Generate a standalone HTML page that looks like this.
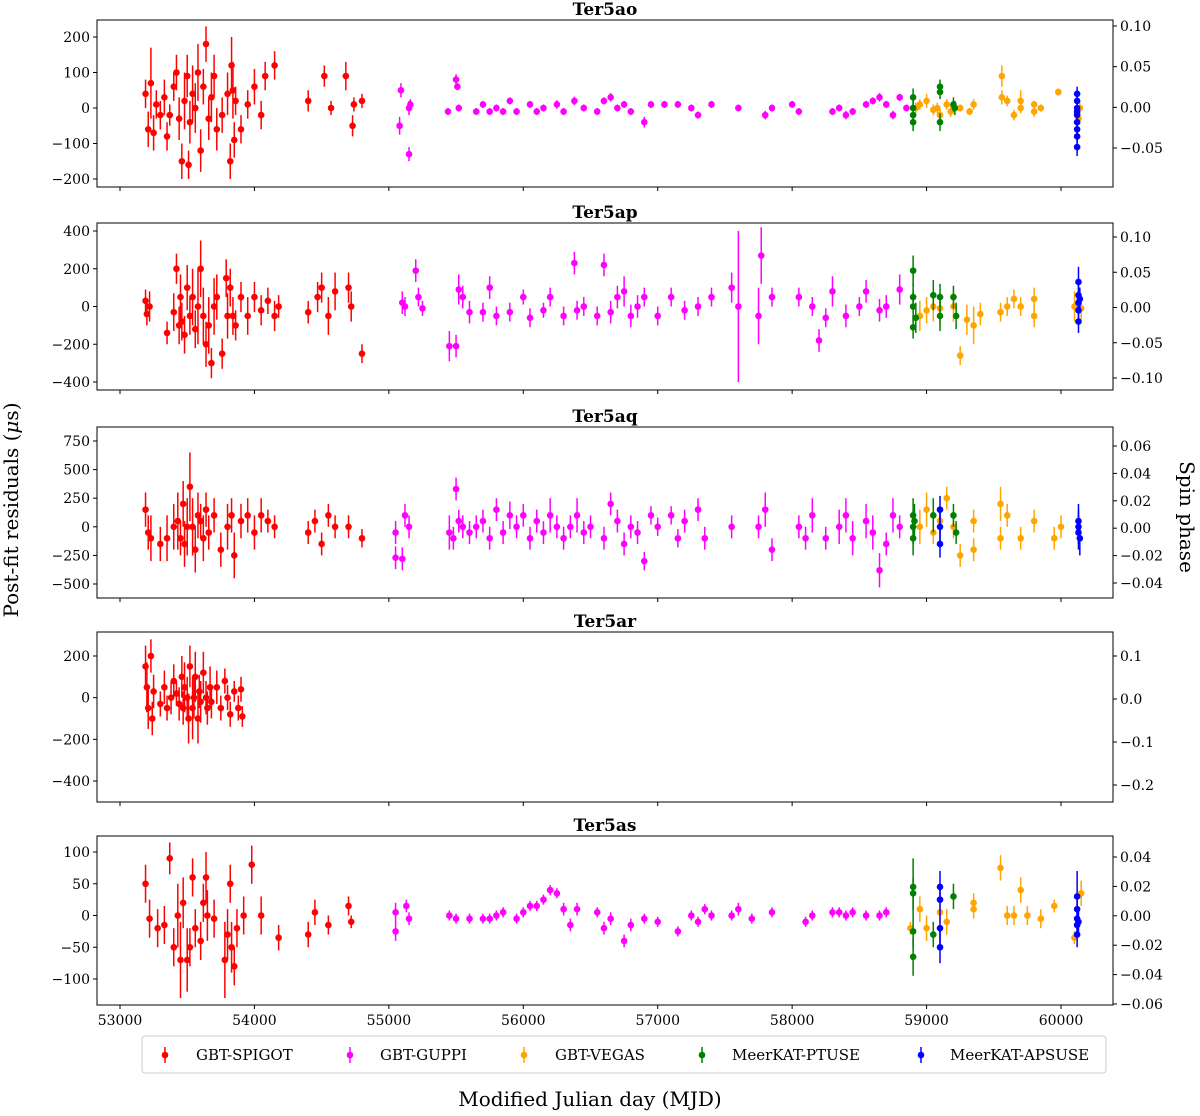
<!DOCTYPE html>
<html><head><meta charset="utf-8"><style>
html,body{margin:0;padding:0;background:#fff;}
svg text{font-family:"DejaVu Serif","Liberation Serif",serif;}
</style></head><body>
<svg id="chart" width="1200" height="1111" viewBox="0 0 1200 1111" xmlns="http://www.w3.org/2000/svg">
<text x="18" y="510" font-size="20" text-anchor="middle" transform="rotate(-90 18 510)">Post-fit residuals (<tspan font-style="italic">μ</tspan>s)</text>
<text x="1180" y="517" font-size="20" text-anchor="middle" transform="rotate(90 1180 517)">Spin phase</text>
<text x="590" y="1106" font-size="20" text-anchor="middle">Modified Julian day (MJD)</text>
<g id="legend">
<rect x="142" y="1036" width="964" height="37" rx="3" fill="#fff" stroke="#ccc"/>
</g>
</svg>
<script>
// ---- data: [MJD, residual (us), error (us)] ----
const xTicks=[53000,54000,55000,56000,57000,58000,59000,60000];
const backends=["GBT-SPIGOT","GBT-GUPPI","GBT-VEGAS","MeerKAT-PTUSE","MeerKAT-APSUSE"];
const colors=["#ff0000","#ff00ff","#ffa500","#008000","#0000ff"];
const panelTitles=["Ter5ao","Ter5ap","Ter5aq","Ter5ar","Ter5as"];
const leftTicks=[[-200,-100,0,100,200],[-400,-200,0,200,400],[-500,-250,0,250,500,750],[-400,-200,0,200],[-100,-50,0,50,100]];
const rightTicks=[[-0.05,0,0.05,0.10],[-0.10,-0.05,0,0.05,0.10],[-0.04,-0.02,0,0.02,0.04,0.06],[-0.2,-0.1,0,0.1],[-0.06,-0.04,-0.02,0,0.02,0.04]];
const rightLabels=[["−0.05","0.00","0.05","0.10"],["−0.10","−0.05","0.00","0.05","0.10"],["−0.04","−0.02","0.00","0.02","0.04","0.06"],["−0.2","−0.1","0.0","0.1"],["−0.06","−0.04","−0.02","0.00","0.02","0.04"]];

const aoSpigot=[[53190,40,40],[53210,-60,50],[53230,70,100],[53250,-70,50],[53270,10,40],[53300,-20,40],[53330,30,50],[53350,-80,40],[53370,-20,30],[53400,60,40],[53420,100,50],[53440,-30,60],[53460,-150,50],[53480,20,80],[53500,90,60],[53510,-160,40],[53520,-40,60],[53540,40,80],[53560,0,70],[53580,100,80],[53600,-120,60],[53620,60,50],[53640,180,50],[53660,-30,60],[53680,30,70],[53700,90,60],[53720,-60,60],[53760,-20,50],[53800,40,60],[53820,-150,50],[53830,120,80],[53840,50,80],[53850,-90,50],[53860,20,40],[53900,-60,40],[53950,10,40],[54000,60,50],[54050,-20,40],[54080,90,40],[54150,120,40],[54400,20,30],[54520,90,30],[54570,0,20],[54680,90,40],[54730,-50,30],[54740,10,20],[54800,20,20]];
const aoGuppi=[[55080,-50,25],[55090,50,20],[55150,-130,20],[55150,0,20],[55160,10,15],[55440,-10,10],[55500,80,15],[55510,60,10],[55520,0,10],[55650,-10,10],[55700,10,10],[55750,-10,10],[55800,0,10],[55850,-10,10],[55900,20,10],[55950,-10,10],[56050,10,10],[56100,-10,10],[56150,0,10],[56250,10,12],[56300,-10,10],[56380,20,12],[56450,0,10],[56550,-10,10],[56600,20,10],[56650,30,12],[56700,0,10],[56750,10,10],[56800,-10,10],[56900,-40,15],[56950,10,10],[57050,10,10],[57150,10,10],[57250,0,10],[57300,-20,10],[57400,10,10],[57600,0,10],[57800,-20,12],[57850,0,10],[58000,10,10],[58050,-10,10],[58300,-10,10],[58350,0,10],[58400,-20,12],[58450,-10,10],[58550,10,10],[58600,20,10],[58650,30,12],[58700,10,10],[58750,-20,12],[58800,30,10],[58850,0,10]];
const aoVegas=[[58920,0,15],[58950,10,15],[59000,20,20],[59050,-5,15],[59080,0,15],[59100,-20,20],[59150,10,15],[59180,-10,15],[59250,0,10],[59320,-10,10],[59350,10,15],[59560,90,30],[59560,30,20],[59600,20,15],[59650,-20,15],[59700,0,15],[59700,20,30],[59800,-10,15],[59800,10,10],[59850,0,10],[59980,45,10],[60130,-30,15],[60140,0,15]];
const aoPtuse=[[58900,30,25],[58900,0,25],[58900,-20,25],[58900,-40,25],[59100,60,20],[59100,45,20],[59100,-40,25],[59200,10,20],[59210,0,20]];
const aoApsuse=[[60120,40,20],[60120,20,20],[60120,0,20],[60120,-20,20],[60120,-40,20],[60120,-60,20],[60120,-80,20],[60120,-110,25],[60120,-10,20]];

const apSpigot=[[53190,30,60],[53200,-40,60],[53220,0,80],[53350,-140,60],[53400,-30,100],[53420,200,80],[53440,-100,100],[53450,50,120],[53460,-80,100],[53480,-150,100],[53500,100,120],[53520,-50,100],[53540,50,150],[53560,-120,100],[53580,0,200],[53600,200,150],[53620,-50,150],[53640,-200,120],[53660,-100,150],[53680,-300,80],[53700,0,150],[53720,50,120],[53760,-250,80],[53790,150,100],[53800,-50,120],[53820,100,100],[53840,-50,100],[53860,-100,80],[53900,50,80],[53950,-50,100],[54000,50,80],[54050,-20,80],[54100,30,70],[54150,-50,80],[54180,0,60],[54400,-30,60],[54470,50,80],[54500,100,80],[54550,-50,100],[54600,80,100],[54700,100,80],[54720,0,80],[54800,-250,50]];
const apGuppi=[[55100,20,60],[55120,0,50],[55200,190,60],[55220,50,50],[55250,-10,40],[55450,-210,80],[55500,-210,60],[55520,90,80],[55550,50,60],[55600,-30,60],[55700,-30,50],[55750,100,60],[55800,-50,50],[55900,-30,50],[56000,50,40],[56050,-60,50],[56150,-20,40],[56200,50,50],[56300,-50,50],[56380,230,60],[56400,-20,50],[56450,0,50],[56550,-50,50],[56600,220,60],[56650,-30,60],[56700,50,60],[56750,80,80],[56800,-50,60],[56850,0,60],[56900,50,50],[57000,-50,50],[57100,50,50],[57200,-20,50],[57300,0,50],[57400,50,50],[57550,100,80],[57600,0,400],[57750,-50,150],[57770,270,150],[57850,50,50],[58050,50,50],[58150,0,50],[58200,-180,60],[58250,-60,50],[58300,80,80],[58400,-50,60],[58500,0,50],[58550,80,60],[58650,-20,60],[58700,0,60],[58800,90,80]];
const apVegas=[[58950,-50,80],[59000,-20,70],[59050,0,80],[59100,-10,80],[59200,0,80],[59250,-260,50],[59300,-70,80],[59350,-100,100],[59400,-40,60],[59550,-30,50],[59600,0,50],[59650,40,50],[59700,0,50],[59800,-50,60],[59800,40,60],[60100,0,80],[60150,-10,60]];
const apPtuse=[[58900,190,80],[58900,50,70],[58900,0,80],[58900,-110,60],[58920,-60,80],[59050,60,80],[59100,-50,80],[59100,50,70],[59200,50,60],[59220,-50,70]];
const apApsuse=[[60130,130,80],[60130,60,60],[60130,20,60],[60130,-20,60],[60130,-80,60],[60140,40,60]];

const aqSpigot=[[53190,150,150],[53210,-50,150],[53230,-100,200],[53300,-150,150],[53350,-100,200],[53400,0,200],[53430,50,250],[53450,-100,150],[53470,200,200],[53480,-150,200],[53500,0,250],[53520,350,300],[53540,0,250],[53560,-200,200],[53580,100,200],[53600,50,150],[53620,-100,200],[53640,150,150],[53660,-50,150],[53700,100,150],[53750,-200,150],[53800,0,200],[53830,100,150],[53850,-250,200],[53900,50,150],[53950,100,150],[54000,-50,150],[54050,100,150],[54100,50,100],[54150,0,100],[54400,-50,100],[54450,50,100],[54500,-150,100],[54550,100,100],[54600,0,100],[54700,0,100],[54800,-100,80]];
const aqGuppi=[[55050,-50,100],[55050,-270,100],[55100,-280,100],[55120,100,100],[55150,0,100],[55450,-50,150],[55480,-100,100],[55500,330,100],[55520,50,100],[55550,0,100],[55600,-50,100],[55650,0,100],[55700,50,100],[55750,-100,100],[55800,150,100],[55850,-50,100],[55900,100,120],[55950,0,100],[56000,100,100],[56050,-100,100],[56100,50,100],[56150,-50,100],[56200,100,150],[56250,0,100],[56300,-100,100],[56350,0,100],[56400,100,150],[56450,-50,100],[56500,0,100],[56600,-100,100],[56650,200,100],[56700,50,100],[56750,-150,100],[56800,0,100],[56850,-50,100],[56900,-300,80],[56950,100,80],[57000,0,80],[57100,100,80],[57150,-100,80],[57200,50,100],[57300,150,100],[57350,-100,100],[57550,0,100],[57750,0,100],[57800,150,150],[57850,-200,100],[58050,0,100],[58100,-100,100],[58150,100,150],[58250,-100,100],[58350,0,150],[58400,100,150],[58450,-100,150],[58550,50,150],[58600,-50,150],[58650,-380,150],[58700,-150,100],[58750,100,150],[58800,0,100]];
const aqVegas=[[58950,0,150],[59000,150,150],[59050,-50,100],[59100,50,100],[59150,250,100],[59200,0,100],[59250,-250,100],[59350,-200,100],[59350,50,100],[59550,200,150],[59550,-100,100],[59600,100,100],[59700,-100,100],[59800,50,100],[59950,-100,100],[60000,0,100]];
const aqPtuse=[[58900,100,150],[58900,0,150],[58900,-100,150],[58910,50,150],[59050,100,150],[59200,100,100],[59220,-50,100]];
const aqApsuse=[[59100,150,120],[59100,0,120],[59100,-150,120],[60130,50,150],[60130,0,150],[60130,-50,150],[60140,-100,150]];

const arSpigot=[[53190,150,100],[53200,50,120],[53210,-50,100],[53230,200,80],[53240,-100,80],[53250,30,80],[53300,-30,60],[53330,50,80],[53350,-50,60],[53380,0,80],[53400,80,80],[53420,20,60],[53440,-30,80],[53460,100,100],[53470,-50,80],[53480,50,120],[53500,0,100],[53510,-100,120],[53520,150,100],[53540,-50,150],[53550,0,100],[53560,100,120],[53580,-100,120],[53590,30,80],[53600,-20,100],[53620,120,100],[53640,0,80],[53650,-50,80],[53670,50,100],[53680,-20,80],[53720,50,80],[53750,-50,60],[53780,80,60],[53800,0,60],[53820,-80,60],[53850,30,50],[53880,-50,60],[53900,40,60],[53910,-90,50]];

const asSpigot=[[53190,50,30],[53220,-5,30],[53280,-20,30],[53330,-15,30],[53370,90,25],[53400,-50,30],[53430,0,50],[53450,-70,60],[53470,20,40],[53500,-70,50],[53520,-50,30],[53540,60,30],[53560,-20,30],[53600,-40,30],[53620,20,30],[53640,60,40],[53650,0,40],[53700,-5,30],[53780,-70,60],[53800,-30,40],[53820,50,30],[53830,-50,40],[53850,-80,30],[53870,-20,30],[53920,0,30],[53980,80,30],[54050,0,30],[54180,-35,20],[54400,-30,20],[54450,5,20],[54550,-15,15],[54700,15,15],[54720,-10,10]];
const asGuppi=[[55050,5,15],[55050,-25,15],[55130,15,10],[55150,-5,10],[55450,0,8],[55500,-5,8],[55600,-5,8],[55700,-5,8],[55750,-5,8],[55800,0,8],[55850,5,8],[55950,-5,8],[56000,5,8],[56050,15,8],[56100,15,8],[56150,25,8],[56200,40,8],[56250,35,8],[56300,10,10],[56350,-15,10],[56400,10,10],[56550,5,8],[56600,-20,10],[56650,-5,10],[56750,-40,10],[56800,-15,10],[56900,-5,8],[57000,-10,8],[57150,-25,8],[57250,0,8],[57300,-10,8],[57350,10,8],[57400,0,8],[57550,0,8],[57600,10,10],[57700,-5,8],[57850,5,8],[58100,-10,8],[58150,0,8],[58300,5,8],[58350,5,8],[58400,0,8],[58450,5,8],[58550,0,8],[58650,0,8],[58700,5,8]];
const asVegas=[[58880,-20,10],[58950,10,20],[59000,-20,20],[59100,5,15],[59150,-10,20],[59350,20,15],[59350,10,15],[59550,75,20],[59600,0,15],[59650,0,15],[59700,40,20],[59750,0,15],[59850,-5,15],[59950,15,10],[60100,-35,10],[60150,35,20]];
const asPtuse=[[58900,45,45],[58900,35,25],[58900,-25,25],[58900,-65,30],[59050,-30,20],[59200,30,20]];
const asApsuse=[[59100,45,25],[59100,25,20],[59100,-20,25],[59100,-50,25],[60120,30,40],[60120,10,20],[60120,-5,20],[60120,-15,20],[60120,-30,20],[60130,-10,20]];

const panelSeries=[[aoSpigot,aoGuppi,aoVegas,aoPtuse,aoApsuse],[apSpigot,apGuppi,apVegas,apPtuse,apApsuse],[aqSpigot,aqGuppi,aqVegas,aqPtuse,aqApsuse],[arSpigot,[],[],[],[]],[asSpigot,asGuppi,asVegas,asPtuse,asApsuse]];

// ---- layout ----
const X0=97,X1=1113;
const boxes=[{top:20,bot:187,lv:[200,37,-200,179],rv:[0.10,26,-0.05,148]},
{top:223,bot:390,lv:[400,231,-400,382],rv:[0.10,237,-0.10,378]},
{top:427,bot:598,lv:[750,441,-500,584],rv:[0.06,446,-0.04,583]},
{top:632,bot:802,lv:[200,656,-400,781],rv:[0.1,656,-0.2,785]},
{top:836,bot:1005,lv:[100,852,-100,979],rv:[0.04,857,-0.06,1004]}];
const xs=m=>120+(m-53000)*(1061-120)/7000;
const NS="http://www.w3.org/2000/svg";
const svg=document.getElementById('chart');
function mk(tag,attrs,parent){const e=document.createElementNS(NS,tag);for(const k in attrs)e.setAttribute(k,attrs[k]);(parent||svg).appendChild(e);return e;}
function lin(v,a){return a[1]+(v-a[0])*(a[3]-a[1])/(a[2]-a[0]);}

boxes.forEach((b,pi)=>{
  const g=mk('g',{});
  
  
  const t=mk('text',{x:(X0+X1)/2,y:b.top-5,'font-size':17,'font-weight':'bold','text-anchor':'middle'},g);
  t.textContent=panelTitles[pi];
  
  
  panelSeries[pi].forEach((ser,si)=>{
    const sg=mk('g',{fill:colors[si],stroke:colors[si]},g);
    
    
    ser.forEach(d=>{
      const x=xs(d[0]);
      const ln=mk('line',{x1:x,x2:x,y1:lin(d[1]+d[2],b.lv),y2:lin(d[1]-d[2],b.lv),'stroke-width':1.5},sg);
      
      
      const c=mk('circle',{cx:x,cy:lin(d[1],b.lv),r:3.3,stroke:'none'},sg);
      
      
    });
  });
  const r=mk('rect',{x:X0,y:b.top,width:X1-X0,height:b.bot-b.top,fill:'none',stroke:'#000','stroke-width':1},g);
  
  
  xTicks.forEach(v=>{
    const x=xs(v);
    const tk=mk('line',{x1:x,x2:x,y1:b.bot,y2:b.bot+4,stroke:'#000'},g);
    
    
    if(pi===4){const tl=mk('text',{x:x,y:b.bot+20,'font-size':14,'text-anchor':'middle'},g);tl.textContent=v;
      
      }
  });
  leftTicks[pi].forEach(v=>{
    const y=lin(v,b.lv);
    const tk=mk('line',{x1:X0-4,x2:X0,y1:y,y2:y,stroke:'#000'},g);
    
    
    const tl=mk('text',{x:X0-7,y:y+5,'font-size':14,'text-anchor':'end'},g);
    tl.textContent=String(v).replace('-','−');
    
    
  });
  rightTicks[pi].forEach((v,i)=>{
    const y=lin(v,b.rv);
    const tk=mk('line',{x1:X1,x2:X1+4,y1:y,y2:y,stroke:'#000'},g);
    
    
    const tl=mk('text',{x:X1+7,y:y+5,'font-size':14},g);
    tl.textContent=rightLabels[pi][i];
    
    
  });
});
// legend
const leg=document.getElementById('legend');
const legX=[165,350,524,702,921];
const legT=[196,380,555,732,950];
backends.forEach((n,i)=>{
  const e=mk('g',{},leg);
  
  
  mk('line',{x1:legX[i],x2:legX[i],y1:1047,y2:1063,stroke:colors[i],'stroke-width':1.5},e);
  mk('circle',{cx:legX[i],cy:1055,r:3.3,fill:colors[i]},e);
  const t=mk('text',{x:legT[i],y:1060,'font-size':15},e);
  t.textContent=n;
});
</script>
</body></html>
